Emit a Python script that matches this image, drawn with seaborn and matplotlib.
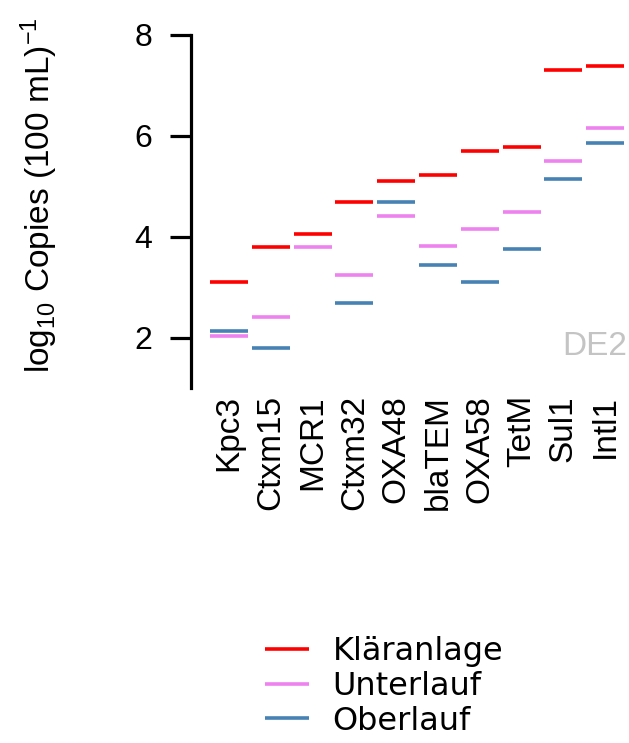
import numpy as np
import pandas as pd
import matplotlib
matplotlib.use("Agg")
import matplotlib.pyplot as plt
import seaborn as sns

# Gene targets and log10 copy numbers per sampling site
genes = ["Kpc3", "Ctxm15", "MCR1", "Ctxm32", "OXA48",
         "blaTEM", "OXA58", "TetM", "Sul1", "Intl1"]
klaeranlage = [3.10, 3.79, 4.05, 4.68, 5.10, 5.22, 5.70, 5.77, 7.31, 7.39]
unterlauf = [2.03, 2.40, 3.79, 3.25, 4.42, 3.82, 4.16, 4.49, 5.51, 6.15]
oberlauf = [2.13, 1.80, np.nan, 2.69, 4.69, 3.44, 3.10, 3.75, 5.14, 5.85]
sites = ["Kläranlage", "Unterlauf", "Oberlauf"]
site_colors = ["#FF0000", "#EE82EE", "#4682B4"]
y_ticks = [2, 4, 6, 8]
station = "DE2"

df = pd.DataFrame({
    "gene": genes * 3,
    "site": np.repeat(sites, len(genes)),
    "value": klaeranlage + unterlauf + oberlauf,
})

sns.set_style("ticks")
plt.rcParams.update({
    "font.family": ["Liberation Sans", "DejaVu Sans"],
    "mathtext.default": "regular",
    "text.color": "black",
    "axes.labelcolor": "black",
    "axes.edgecolor": "black",
    "xtick.color": "black",
    "ytick.color": "black",
})

fig = plt.figure(figsize=(6.29, 7.43), dpi=100)
ax = fig.add_axes([191 / 629, 1 - 388 / 743, 438 / 629, 353 / 743])

sns.scatterplot(
    data=df, x="gene", y="value", hue="site", hue_order=sites,
    palette=site_colors, marker="_", s=750, linewidth=2.6,
    ax=ax, legend=True,
)

ax.set_xlim(-0.91, 9.57)
ax.set_ylim(1, 8)
ax.set_yticks(y_ticks)
ax.set_xlabel("")
ax.set_ylabel(r"log$_{10}$ Copies (100 mL)$^{-1}$", fontsize=24)
ax.yaxis.set_label_coords(-0.300, 0.545)

for side in ["top", "right", "bottom"]:
    ax.spines[side].set_visible(False)
ax.spines["left"].set_linewidth(2.3)
ax.tick_params(axis="y", length=15, width=2.3, pad=13, labelsize=23)
ax.tick_params(axis="x", length=0, pad=5, labelsize=24, labelrotation=90)
for lab in ax.get_xticklabels():
    lab.set_verticalalignment("top")
    lab.set_horizontalalignment("center")

ax.text(0.995, 0.0935, station, transform=ax.transAxes, ha="right",
        va="baseline", fontsize=24, color="#C4C4C4")

handles, labels = ax.get_legend_handles_labels()
ax.get_legend().remove()
leg = fig.legend(
    handles, labels, loc="upper left",
    bbox_to_anchor=(265 / 629, 1 - 636 / 743),
    frameon=False, borderpad=0, borderaxespad=0,
    handlelength=1.4, handletextpad=0.72, labelspacing=0.12,
    prop={"family": "DejaVu Sans", "size": 23},
)
for h in leg.legend_handles:
    h.set_markersize(31)
    h.set_markeredgewidth(2.6)

fig.savefig("out.png", dpi=100)
